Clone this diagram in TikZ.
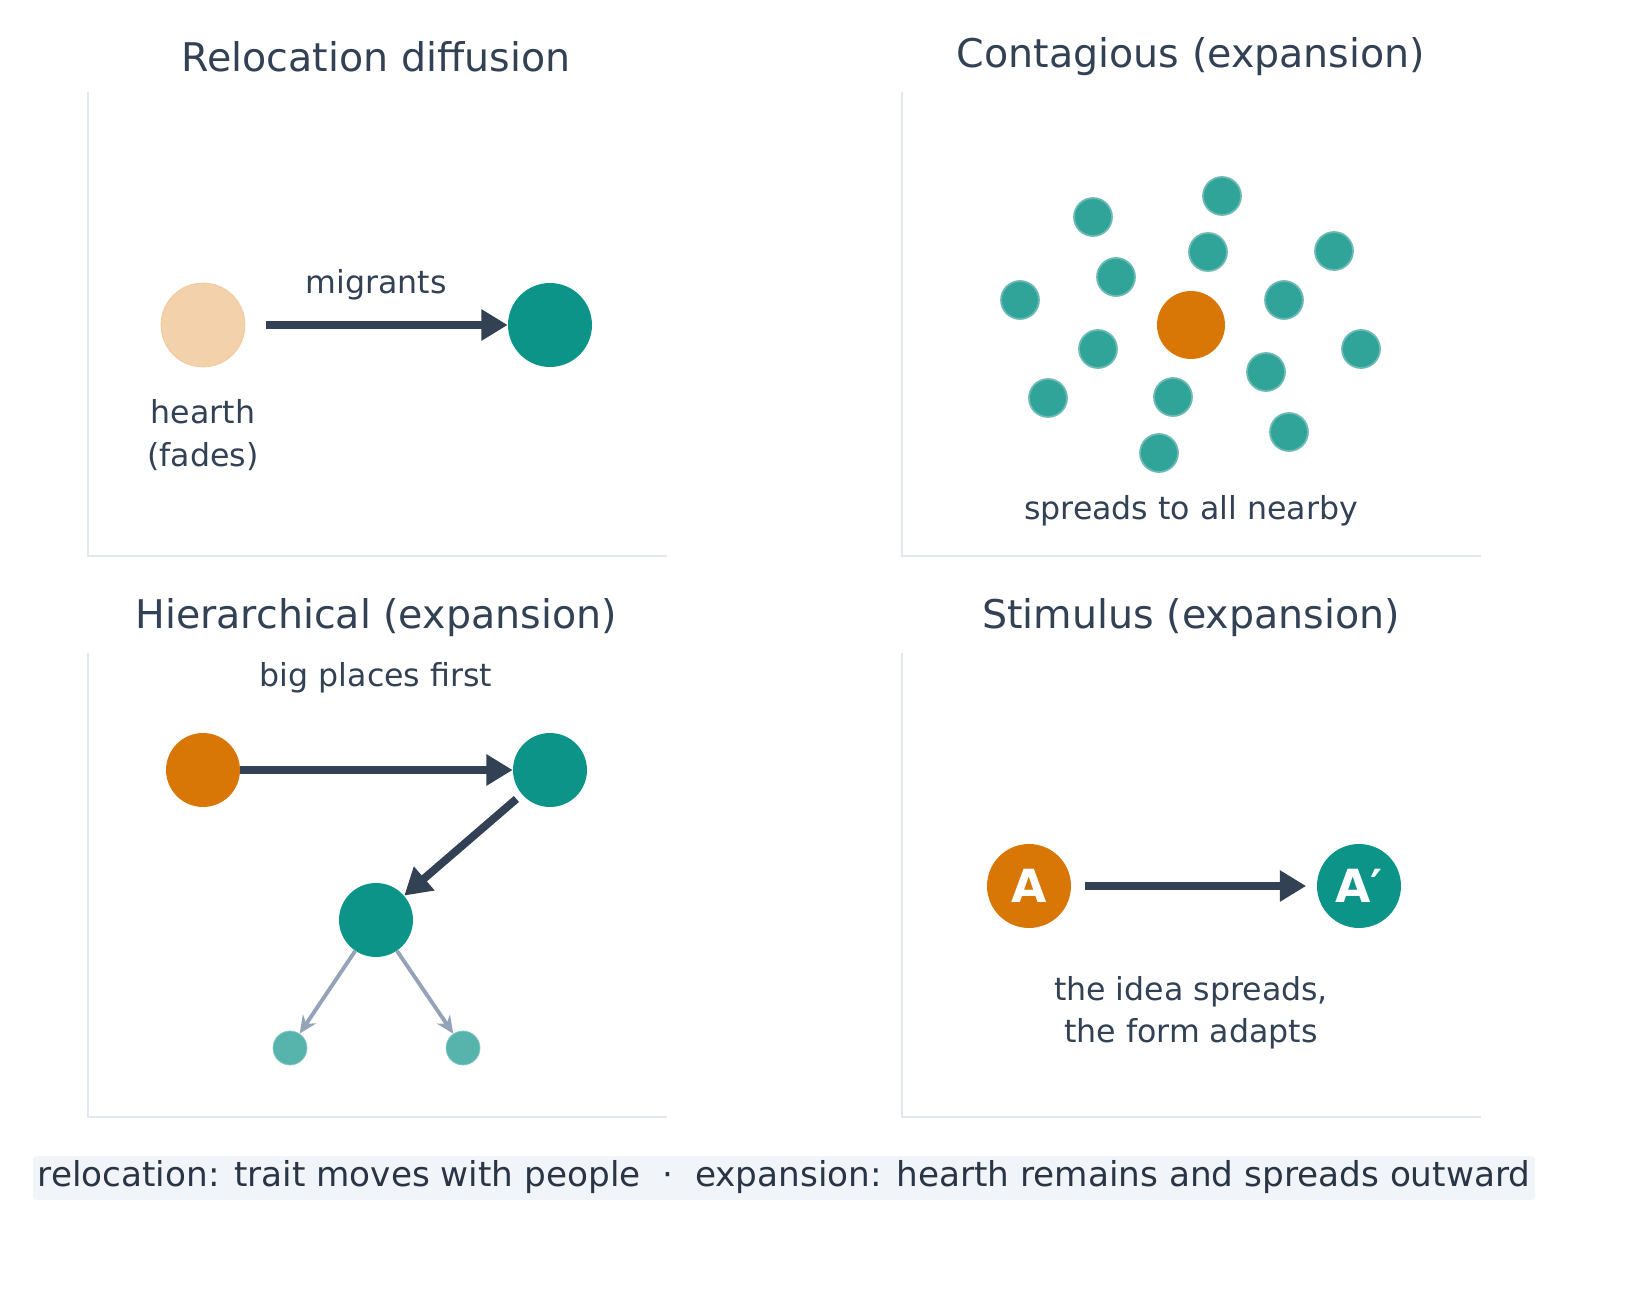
\documentclass[tikz,border=0pt]{standalone}
\usepackage{fontspec}
\setmainfont{DejaVu Sans}
\usetikzlibrary{arrows.meta}
\definecolor{ink}{HTML}{334155}
\definecolor{orng}{HTML}{D97706}
\definecolor{teal}{HTML}{0D9488}
\definecolor{faded}{HTML}{F3D1AA}
\definecolor{axis}{HTML}{E2E8F0}
\definecolor{soft}{HTML}{94A3B8}
\definecolor{foot}{HTML}{F1F5F9}

\begin{document}
\begin{tikzpicture}[x=0.02cm,y=-0.02cm,
    title/.style={text=ink,font=\fontsize{22.5}{26}\selectfont},
    lbl/.style={text=ink,font=\fontsize{18}{24}\selectfont,align=center},
    big/.style={circle,inner sep=0pt,minimum size=#1*0.04cm},
    dot/.style={circle,inner sep=0pt,minimum size=0.76cm,fill=teal!85,draw=teal!95!black!60,line width=1pt},
    move/.style={ink,line width=4.5pt,-{Triangle[length=15pt,width=17pt]}},
    trickle/.style={soft,line width=2.2pt,-{Stealth[length=10pt,width=9pt]}}]
    \path[use as bounding box,fill=white] (0,0) rectangle (1641,1291);

    % panel frames
    \foreach \x in {88,902}
    {
        \foreach \y in {92,653}
        {
            \draw[axis,line width=1.5pt] (\x,\y) -- (\x,\y+464) -- (\x+579,\y+464);
        }
    }

    \node[title] at (376,57) {Relocation diffusion};
    \node[title] at (1191,57) {Contagious (expansion)};
    \node[title] at (376,618) {Hierarchical (expansion)};
    \node[title] at (1191,618) {Stimulus (expansion)};

    % relocation
    \node[big=42,fill=faded,draw=faded!90!orng] (hearth) at (203,325) {};
    \node[big=42,fill=teal] (newplace) at (550,325) {};
    \draw[move] (266,325) -- (newplace);
    \node[lbl] at (376,285) {migrants};
    \node[lbl] at (203,435) {hearth\\(fades)};

    % contagious
    \node[big=34,fill=orng] (source) at (1191,325) {};
    \foreach \p [count=\i] in {(1093,217),(1222,196),(1208,252),(1334,251),(1116,277),(1020,300),(1284,300),
        (1098,349),(1361,349),(1266,372),(1048,398),(1173,397),(1289,432),(1159,453)}
    {
        \node[dot] (n\i) at \p {};
    }
    \node[lbl] at (1191,511) {spreads to all nearby};

    % hierarchical
    \node[lbl] at (376,678) {big places first};
    \node[big=37,fill=orng] (city) at (203,770) {};
    \node[big=37,fill=teal] (cityB) at (550,770) {};
    \node[big=37,fill=teal] (town) at (376,920) {};
    \node[big=17,fill=teal!70,draw=teal!50] (villA) at (290,1048) {};
    \node[big=17,fill=teal!70,draw=teal!50] (villB) at (463,1048) {};
    \draw[move] (city) -- (cityB);
    \draw[move,shorten <=4pt] (cityB) -- (town);
    \draw[trickle] (town) -- (villA);
    \draw[trickle] (town) -- (villB);

    % stimulus
    \node[big=42,fill=orng,text=white,font=\bfseries\fontsize{26}{28}\selectfont] (orig) at (1029,886) {A};
    \node[big=42,fill=teal,text=white,font=\bfseries\fontsize{26}{28}\selectfont] (adapt) at (1359,886) {A′};
    \draw[move,shorten <=8pt,shorten >=6pt] (orig) -- (adapt);
    \node[lbl] at (1191,1013) {the idea spreads,\\the form adapts};

    % footer
    \fill[foot,rounded corners=2pt] (33,1156) rectangle (1535,1200);
    \node[text=ink!80!black,font=\fontsize{19.5}{22}\selectfont] at (784,1177)
        {relocation: trait moves with people\ \ ·\ \ expansion: hearth remains and spreads outward};
\end{tikzpicture}
\end{document}
